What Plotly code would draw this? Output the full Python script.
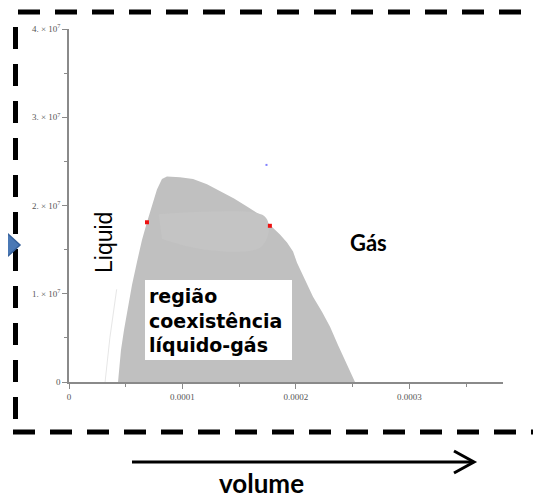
import plotly.graph_objects as go

# ---- data ----
# coexistence region boundary (volume m^3, pressure Pa)
region_v = [4.32e-5, 4.58e-5, 4.85e-5, 5.11e-5, 5.55e-5, 5.99e-5, 6.43e-5, 6.87e-5,
            7.31e-5, 7.75e-5, 8.19e-5, 8.63e-5, 9.78e-5, 1.093e-4, 1.216e-4, 1.330e-4,
            1.454e-4, 1.568e-4, 1.674e-4, 1.771e-4, 1.859e-4, 1.921e-4, 1.974e-4,
            2.009e-4, 2.079e-4, 2.150e-4, 2.229e-4, 2.300e-4, 2.370e-4, 2.441e-4,
            2.520e-4, 4.32e-5]
region_p = [0.0, 3.64e6, 5.91e6, 7.84e6, 1.10e7, 1.36e7, 1.61e7, 1.81e7,
            2.01e7, 2.18e7, 2.30e7, 2.33e7, 2.32e7, 2.30e7, 2.24e7, 2.16e7,
            2.08e7, 1.99e7, 1.90e7, 1.78e7, 1.67e7, 1.58e7, 1.48e7,
            1.35e7, 1.16e7, 9.66e6, 7.95e6, 6.25e6, 4.20e6, 2.27e6,
            0.0, 0.0]
# lighter patch inside the region
patch_v = [0.0000790, 0.000120, 0.000172, 0.000176, 0.000168, 0.000120, 0.000082]
patch_p = [1.90e7, 1.93e7, 1.88e7, 1.72e7, 1.52e7, 1.50e7, 1.62e7]
# faint liquid line
liq_v = [0.0000318, 0.0000360, 0.0000420]
liq_p = [0.0, 5.0e6, 1.05e7]
# red points
red_v = [0.0000687, 0.000177]
red_p = [1.81e7, 1.77e7]
# blue point
blue_v = [0.000174]
blue_p = [2.46e7]

x_tickvals = [0, 0.0001, 0.0002, 0.0003]
x_ticktext = ["0", "0.0001", "0.0002", "0.0003"]
x_minor = [0.00005, 0.00015, 0.00025, 0.00035]
y_tickvals = [0, 1e7, 2e7, 3e7, 4e7]
y_ticktext = ["0", "1. × 10<sup>7</sup>", "2. × 10<sup>7</sup>",
              "3. × 10<sup>7</sup>", "4. × 10<sup>7</sup>"]
y_minor = [0.5e7, 1.5e7, 2.5e7, 3.5e7]

# ---- layout helpers (reference pixel -> paper), page has an 8px body margin ----
OFF = 8
W, H = 541 - OFF, 502 - OFF
L, R, T, B = 69 - OFF, 503 - OFF, 29 - OFF, 382 - OFF
def px(x):
    return (x - OFF - L) / (R - L)
def py(y):
    return (B - (y - OFF)) / (B - T)

fig = go.Figure()
fig.add_trace(go.Scatter(x=region_v, y=region_p, fill="toself", fillcolor="#c0c0c0",
                         mode="lines", line=dict(width=0, color="#c0c0c0"),
                         hoverinfo="skip"))
fig.add_trace(go.Scatter(x=patch_v, y=patch_p, fill="toself", fillcolor="#c4c4c4",
                         mode="lines", line=dict(width=0, color="#c4c4c4", shape="spline"),
                         hoverinfo="skip"))
fig.add_trace(go.Scatter(x=liq_v, y=liq_p, mode="lines",
                         line=dict(width=1, color="#e6e6e6"), hoverinfo="skip"))
fig.add_trace(go.Scatter(x=red_v, y=red_p, mode="markers",
                         marker=dict(color="#ee1111", size=4, symbol="square"), hoverinfo="skip"))
fig.add_trace(go.Scatter(x=blue_v, y=blue_p, mode="markers",
                         marker=dict(color="#8080ff", size=2, symbol="square"), hoverinfo="skip"))

axis_col = "#8a8a8a"
tickfont = dict(family="Liberation Serif", size=9, color="#555555")

fig.update_xaxes(range=[0, 0.0003824], showgrid=False, zeroline=False,
                 showline=True, linecolor=axis_col, linewidth=1.5,
                 tickmode="array", tickvals=x_tickvals, ticktext=x_ticktext,
                 ticks="outside", ticklen=5, tickcolor=axis_col, tickwidth=1,
                 tickfont=tickfont,
                 minor=dict(tickmode="array", tickvals=x_minor, ticks="outside",
                            ticklen=3, tickcolor=axis_col))
fig.update_yaxes(range=[0, 4e7], showgrid=False, zeroline=False,
                 showline=True, linecolor=axis_col, linewidth=1.5,
                 tickmode="array", tickvals=y_tickvals, ticktext=y_ticktext,
                 ticks="outside", ticklen=5, tickcolor=axis_col, tickwidth=1,
                 tickfont=tickfont,
                 minor=dict(tickmode="array", tickvals=y_minor, ticks="outside",
                            ticklen=3, tickcolor=axis_col))

shapes = []
dash = "22px,15px"
# dashed frame
shapes.append(dict(type="line", xref="paper", yref="paper", x0=px(18), x1=px(560),
                   y0=py(12), y1=py(12), line=dict(color="black", width=5, dash=dash)))
shapes.append(dict(type="line", xref="paper", yref="paper", x0=px(15.5), x1=px(15.5),
                   y0=py(27), y1=py(432), line=dict(color="black", width=5, dash=dash)))
shapes.append(dict(type="line", xref="paper", yref="paper", x0=px(13), x1=px(560),
                   y0=py(432), y1=py(432), line=dict(color="black", width=5, dash=dash)))
# blue chevron at left
shapes.append(dict(type="path", xref="paper", yref="paper",
                   path=f"M {px(-5)} {py(222)} L {px(20)} {py(245)} L {px(-5)} {py(268)} Z",
                   fillcolor="#4a78b5", line=dict(color="#36609a", width=1.5)))
# white text box
shapes.append(dict(type="rect", xref="paper", yref="paper", x0=px(145), x1=px(292),
                   y0=py(360), y1=py(280), fillcolor="white", line=dict(width=0)))
# arrow
shapes.append(dict(type="line", xref="paper", yref="paper", x0=px(132), x1=px(473),
                   y0=py(462), y1=py(462), line=dict(color="black", width=3)))
shapes.append(dict(type="path", xref="paper", yref="paper",
                   path=f"M {px(454)} {py(451)} L {px(474)} {py(462)} L {px(454)} {py(473)}",
                   line=dict(color="black", width=3)))

ann = [
    dict(text="região<br>coexistência<br>líquido-gás", xref="paper", yref="paper",
         x=px(147), y=py(320), xanchor="left", yanchor="middle", align="left",
         showarrow=False,
         font=dict(family="DejaVu Sans", size=19, color="black", weight="bold")),
    dict(text="Gás", xref="paper", yref="paper", x=px(368), y=py(242),
         xanchor="center", yanchor="middle", showarrow=False,
         font=dict(family="Lato", size=22, color="black", weight="bold")),
    dict(text="Liquid", xref="paper", yref="paper", x=px(104), y=py(243),
         xanchor="center", yanchor="middle", showarrow=False, textangle=-90,
         font=dict(family="Liberation Sans", size=23, color="black")),
    dict(text="volume", xref="paper", yref="paper", x=px(261), y=py(501),
         xanchor="center", yanchor="bottom", showarrow=False,
         font=dict(family="Lato", size=26, color="black", weight="bold")),
]

fig.update_layout(width=W, height=H, margin=dict(l=L, r=W - R, t=T, b=H - B),
                  paper_bgcolor="white", plot_bgcolor="white", showlegend=False,
                  shapes=shapes, annotations=ann)

fig.write_html("out.html")
